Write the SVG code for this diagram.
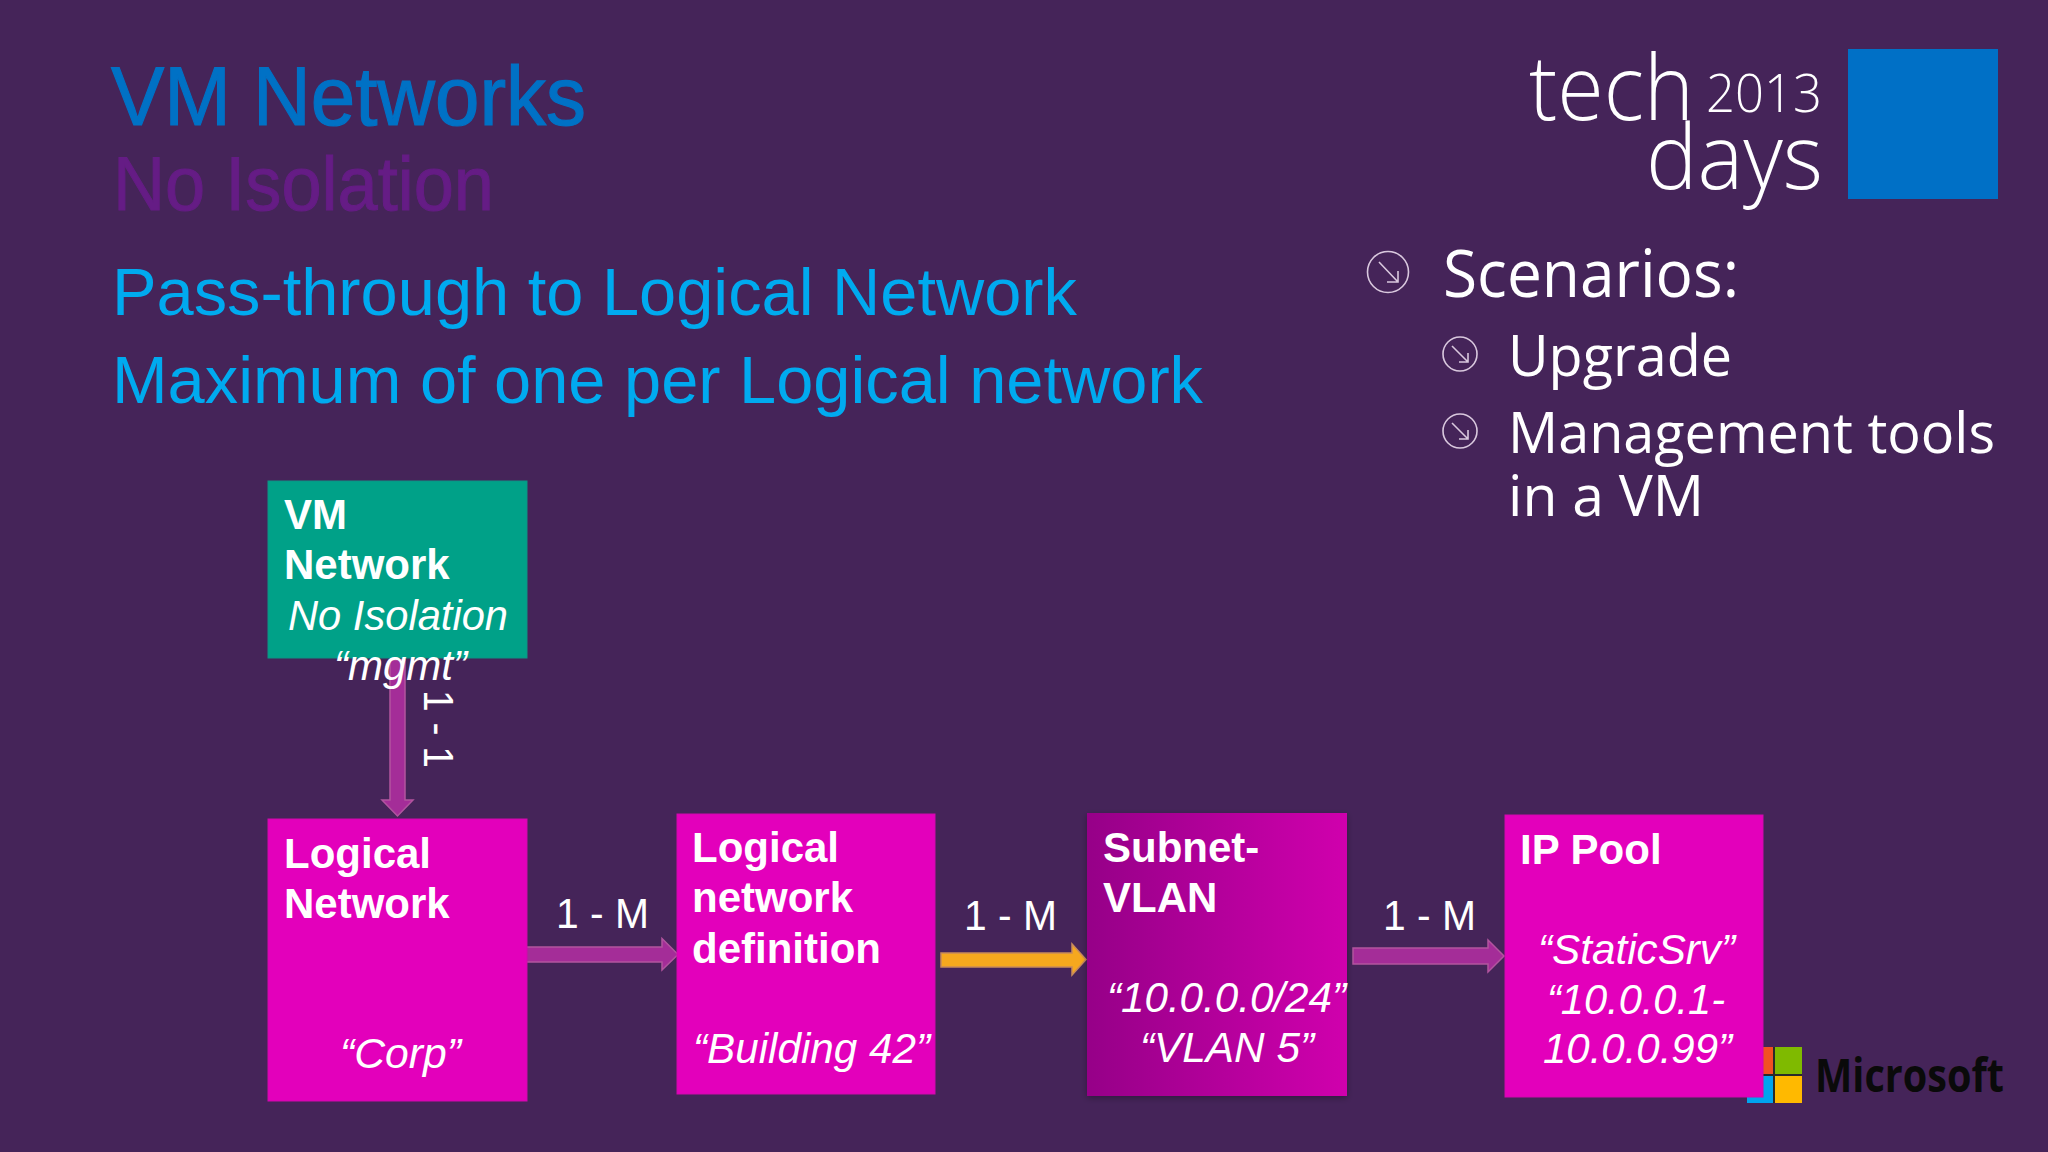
<svg xmlns="http://www.w3.org/2000/svg" width="2048" height="1152" viewBox="0 0 2048 1152">
<defs>
<linearGradient id="subnetFill" x1="0" y1="0" x2="1" y2="0"><stop offset="0" stop-color="#960088"/><stop offset="1" stop-color="#d000ad"/></linearGradient>
<filter id="soft" x="-5%" y="-5%" width="110%" height="110%"><feDropShadow dx="0" dy="2" stdDeviation="3" flood-color="#000" flood-opacity="0.3"/></filter>
</defs>
<style>
text{font-family:"Liberation Sans",Arial,sans-serif;fill:#fff}
.b{font-size:42px;font-weight:700}
.i{font-size:42px;font-style:italic}
.m{font-size:43px}
.t2{font-size:66px;fill:#00aaef}
.s{font-family:"Open Sans","Noto Sans",sans-serif;fill:#fff}
.l{font-family:"Open Sans","Noto Sans",sans-serif;fill:#fff;font-weight:300}
.box{fill:#e300bb;stroke:#d208ad;stroke-width:1}
.arr{fill:#a42d98;stroke:#b2549f;stroke-width:1.5}
.bul{fill:none;stroke:#d9c8de;stroke-width:1.6}
</style>
<rect width="2048" height="1152" fill="#452459"/>
<g id="title">
<text x="111" y="125" font-size="84" style="fill:#0071c5;stroke:#0071c5;stroke-width:1.2" textLength="475" lengthAdjust="spacingAndGlyphs">VM Networks</text>
<text x="113" y="210" font-size="76" style="fill:#651c85;stroke:#651c85;stroke-width:1" textLength="381" lengthAdjust="spacingAndGlyphs">No Isolation</text>
<text class="t2" x="112" y="315" textLength="965" lengthAdjust="spacingAndGlyphs">Pass-through to Logical Network</text>
<text class="t2" x="112" y="403" textLength="1091" lengthAdjust="spacingAndGlyphs">Maximum of one per Logical network</text>
</g>
<g id="event-logo">
<text class="l" x="1529" y="120" font-size="90" textLength="165" lengthAdjust="spacingAndGlyphs">tech</text>
<text class="l" x="1706" y="112" font-size="54" textLength="116" lengthAdjust="spacingAndGlyphs">2013</text>
<text class="l" x="1646" y="189" font-size="90" textLength="177" lengthAdjust="spacingAndGlyphs">days</text>
<rect x="1848" y="49" width="150" height="150" fill="#0070c6"/>
</g>
<g id="scenarios">
<circle class="bul" cx="1388" cy="272" r="20.5"/><path class="bul" d="M1379 262L1398 282M1398 271V282H1387"/>
<text class="s" x="1443" y="297" font-size="66" textLength="296" lengthAdjust="spacingAndGlyphs">Scenarios:</text>
<circle class="bul" cx="1460" cy="354" r="17"/><path class="bul" d="M1452 346L1468 362M1468 353V362H1459"/>
<text class="s" x="1508" y="376" font-size="56" textLength="224" lengthAdjust="spacingAndGlyphs">Upgrade</text>
<circle class="bul" cx="1460" cy="431" r="17"/><path class="bul" d="M1452 423L1468 439M1468 430V439H1459"/>
<text class="s" x="1508" y="453" font-size="56" textLength="487" lengthAdjust="spacingAndGlyphs">Management tools</text>
<text class="s" x="1508" y="516" font-size="56" textLength="196" lengthAdjust="spacingAndGlyphs">in a VM</text>
</g>
<g id="microsoft-logo">
<rect x="1747" y="1047" width="55" height="56" fill="#2a2a2a"/>
<rect x="1747" y="1047" width="26" height="27" fill="#f25022"/>
<rect x="1775" y="1047" width="27" height="27" fill="#7fba00"/>
<rect x="1747" y="1076" width="26" height="27" fill="#00a4ef"/>
<rect x="1775" y="1076" width="27" height="27" fill="#ffb900"/>
<text x="1815" y="1092" font-size="46" style="font-family:'Open Sans','Noto Sans',sans-serif;fill:#0a0a0a;font-weight:700" textLength="189" lengthAdjust="spacingAndGlyphs">Microsoft</text>
</g>
<g id="connectors">
<path class="arr" d="M390 660H405V800H413L397.500 816L382 800H390Z"/>
<path class="arr" d="M526 947H662V938.500L678 954.500L662 970V962H526Z"/>
<path d="M941 953H1072V944L1086 959.500L1072 975V967H941Z" fill="#f6a81e" stroke="#c98a5a" stroke-width="1.500"/>
<path class="arr" d="M1353 948H1488V940L1504 956L1488 972V964H1353Z"/>
</g>
<g id="vm-network">
<rect x="268" y="481" width="259" height="177" fill="#00a188" stroke="#0c9485"/>
<text class="b" x="284" y="529">VM</text>
<text class="b" x="284" y="579">Network</text>
<text class="i" x="288" y="630" textLength="220" lengthAdjust="spacingAndGlyphs">No Isolation</text>
<text class="i" x="334" y="680" textLength="133" lengthAdjust="spacingAndGlyphs">“mgmt”</text>
</g>
<g id="logical-network">
<rect class="box" x="268" y="819" width="259" height="282"/>
<text class="b" x="284" y="868">Logical</text>
<text class="b" x="284" y="918">Network</text>
<text class="i" x="340" y="1068" textLength="121" lengthAdjust="spacingAndGlyphs">“Corp”</text>
</g>
<g id="logical-network-definition">
<rect class="box" x="677" y="814" width="258" height="280"/>
<text class="b" x="692" y="862">Logical</text>
<text class="b" x="692" y="912">network</text>
<text class="b" x="692" y="963">definition</text>
<text class="i" x="693" y="1063" textLength="237" lengthAdjust="spacingAndGlyphs">“Building 42”</text>
</g>
<g id="subnet-vlan">
<rect x="1087" y="813" width="260" height="283" fill="url(#subnetFill)" filter="url(#soft)"/>
<text class="b" x="1103" y="862">Subnet-</text>
<text class="b" x="1103" y="912">VLAN</text>
<text class="i" x="1107" y="1012" textLength="239" lengthAdjust="spacingAndGlyphs">“10.0.0.0/24”</text>
<text class="i" x="1140" y="1062" textLength="174" lengthAdjust="spacingAndGlyphs">“VLAN 5”</text>
</g>
<g id="ip-pool">
<rect class="box" x="1505" y="815" width="258" height="282"/>
<text class="b" x="1520" y="864">IP Pool</text>
<text class="i" x="1538" y="964" textLength="197" lengthAdjust="spacingAndGlyphs">“StaticSrv”</text>
<text class="i" x="1547" y="1014" textLength="178" lengthAdjust="spacingAndGlyphs">“10.0.0.1-</text>
<text class="i" x="1543" y="1063" textLength="189" lengthAdjust="spacingAndGlyphs">10.0.0.99”</text>
</g>
<g id="connector-labels">
<text class="m" x="556" y="928" textLength="93" lengthAdjust="spacingAndGlyphs">1 - M</text>
<text class="m" x="964" y="930" textLength="93" lengthAdjust="spacingAndGlyphs">1 - M</text>
<text class="m" x="1383" y="930" textLength="93" lengthAdjust="spacingAndGlyphs">1 - M</text>
<text class="m" transform="translate(424 690) rotate(90)" textLength="78" lengthAdjust="spacingAndGlyphs">1 - 1</text>
</g>
</svg>
